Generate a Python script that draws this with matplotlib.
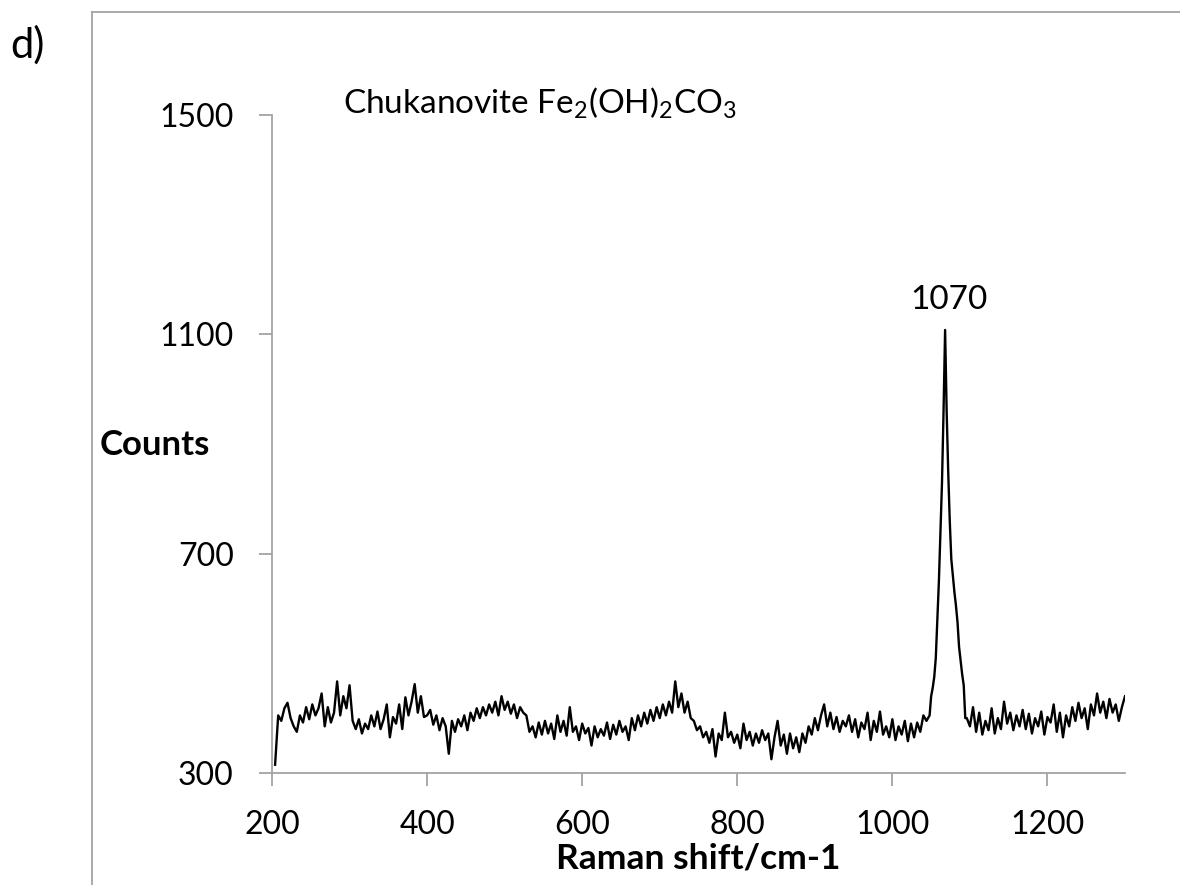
import numpy as np
import matplotlib
matplotlib.use('Agg')
import matplotlib.pyplot as plt
from matplotlib.lines import Line2D

plt.rcParams['font.family'] = ['Lato', 'DejaVu Sans']
plt.rcParams['mathtext.fontset'] = 'custom'
plt.rcParams['mathtext.rm'] = 'Lato'

# Raman spectrum (shift in cm-1, counts)

# baseline before the band, every 4 cm-1 from 204 to 1044
shift_low = np.arange(204, 1045, 4)
counts_low = [
    315, 405, 395, 418, 428, 400, 385, 375, 405, 392,
    420, 398, 425, 405, 418, 445, 385, 420, 392, 410,
    467, 405, 440, 418, 460, 395, 380, 398, 372, 390,
    380, 405, 385, 412, 380, 398, 425, 365, 402, 390,
    425, 380, 438, 405, 430, 462, 410, 440, 402, 405,
    415, 388, 405, 378, 400, 385, 335, 395, 375, 398,
    385, 405, 378, 410, 395, 418, 400, 420, 405, 425,
    410, 430, 405, 440, 415, 430, 408, 425, 400, 420,
    410, 405, 375, 385, 365, 392, 370, 395, 372, 390,
    362, 405, 375, 395, 368, 420, 375, 385, 360, 390,
    372, 382, 350, 385, 365, 380, 368, 392, 362, 388,
    370, 395, 375, 385, 360, 400, 378, 405, 385, 410,
    390, 415, 395, 420, 400, 425, 405, 430, 410, 467,
    420, 445, 410, 430, 400, 395, 378, 385, 365, 375,
    355, 380, 330, 372, 360, 410, 365, 375, 355, 370,
    345, 390, 360, 375, 350, 372, 355, 378, 360, 372,
    325, 365, 395, 350, 370, 335, 372, 345, 365, 338,
    372, 355, 385, 370, 400, 378, 405, 425, 385, 410,
    380, 402, 375, 395, 385, 405, 375, 398, 365, 392,
    380, 410, 360, 395, 375, 412, 370, 385, 365, 398,
    360, 385, 370, 395, 358, 390, 365, 392, 375, 405,
    395,
]

# the 1070 band, every 2 cm-1
shift_peak = np.arange(1048, 1095, 2)
counts_peak = [
    405, 440, 455, 475, 510, 580, 650, 740, 830, 960,
    1108, 960, 850, 760, 690, 660, 630, 605, 575, 530,
    505, 480, 460, 400,
]

# after the band, every 4 cm-1 up to 1300
shift_high = np.arange(1096, 1301, 4)
counts_high = [
    400, 385, 420, 375, 410, 370, 395, 378, 418, 372,
    400, 380, 430, 390, 410, 378, 405, 385, 415, 380,
    408, 372, 400, 385, 412, 370, 402, 392, 425, 375,
    410, 365, 405, 385, 420, 395, 428, 400, 418, 380,
    425, 405, 445, 410, 430, 400, 435, 410, 425, 395,
    420, 440,
]

shift = np.concatenate([shift_low, shift_peak, shift_high])
counts = np.concatenate([counts_low, counts_peak, counts_high])

x_ticks = [200, 400, 600, 800, 1000, 1200]
y_ticks = [300, 700, 1100, 1500]

axis_grey = '#a3a3a3'

fig = plt.figure(figsize=(11.8, 8.85), dpi=100)
ax = fig.add_axes([0.2305, 0.1266, 0.7229, 0.7434])

ax.plot(shift, counts, color='black', lw=1.7)

ax.set_xlim(200, 1300)
ax.set_ylim(300, 1500)
ax.set_xticks(x_ticks)
ax.set_yticks(y_ticks)

for side in ['top', 'right']:
    ax.spines[side].set_visible(False)
for side in ['left', 'bottom']:
    ax.spines[side].set_color(axis_grey)
    ax.spines[side].set_linewidth(1.3)

ax.tick_params(direction='out', length=9.5, width=1.3, color=axis_grey,
               labelsize=23, labelcolor='black')
ax.tick_params(axis='y', pad=18)
ax.tick_params(axis='x', pad=17)

# labels
fig.text(100 / 1180, 1 - 445 / 885, 'Counts', fontsize=25, fontweight='bold',
         ha='left', va='center')
fig.text(698 / 1180, 1 - 858 / 885, 'Raman shift/cm-1', fontsize=25.5,
         fontweight='bold', ha='center', va='center')

ax.text(291.7, 1522, r'Chukanovite Fe$_2$(OH)$_2$CO$_3$', fontsize=24,
        ha='left', va='center', clip_on=False)
ax.text(1073, 1163, '1070', fontsize=24, ha='center', va='center')

fig.text(10 / 1180, 1 - 45 / 885, 'd)', fontsize=30, ha='left', va='center')

# frame around the panel (cut off at right and bottom)
fx = 92 / 1180
fy = 1 - 11.5 / 885
fig.add_artist(Line2D([fx, fx], [0, fy], color=axis_grey, lw=1.3,
                      transform=fig.transFigure))
fig.add_artist(Line2D([fx, 1], [fy, fy], color=axis_grey, lw=1.3,
                      transform=fig.transFigure))

fig.savefig('out.png', dpi=100)
